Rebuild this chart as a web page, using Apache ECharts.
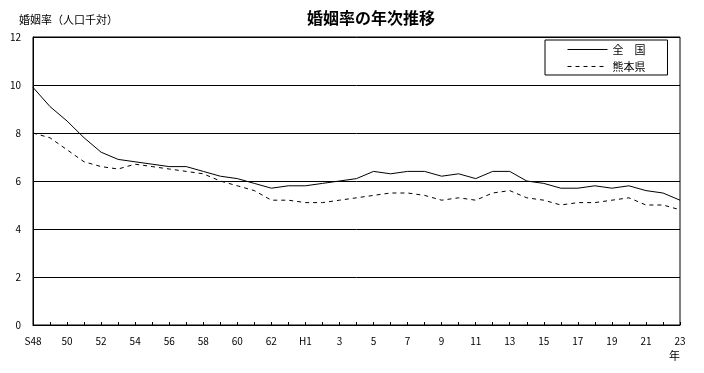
<!DOCTYPE html>
<html>
<head>
<meta charset="utf-8">
<script src="https://cdn.jsdelivr.net/npm/echarts@6/dist/echarts.min.js"></script>
<style>html,body{margin:0;padding:0;background:#fff}#c{width:704px;height:373px}</style>
</head>
<body>
<div id="c"></div>
<script>
const years = ['S48','49','50','51','52','53','54','55','56','57','58','59','60','61','62','63',
  'H1','2','3','4','5','6','7','8','9','10','11','12','13','14','15','16','17','18','19','20','21','22','23'];
const zenkoku = [9.9,9.1,8.5,7.8,7.2,6.9,6.8,6.7,6.6,6.6,6.4,6.2,6.1,5.9,5.7,5.8,
  5.8,5.9,6.0,6.1,6.4,6.3,6.4,6.4,6.2,6.3,6.1,6.4,6.4,6.0,5.9,5.7,5.7,5.8,5.7,5.8,5.6,5.5,5.2];
const kumamoto = [8.0,7.8,7.3,6.8,6.6,6.5,6.7,6.6,6.5,6.4,6.3,6.0,5.8,5.6,5.2,5.2,
  5.1,5.1,5.2,5.3,5.4,5.5,5.5,5.4,5.2,5.3,5.2,5.5,5.6,5.3,5.2,5.0,5.1,5.1,5.2,5.3,5.0,5.0,4.8];
const yTicks = {min: 0, max: 12, interval: 2};
const font = '"Noto Sans CJK JP", sans-serif';

const chart = echarts.init(document.getElementById('c'), null, {renderer: 'canvas'});
chart.setOption({
  animation: false,
  backgroundColor: '#fff',
  title: [
    {text: '婚姻率の年次推移', left: 366, top: 5, textAlign: 'center',
     textStyle: {fontFamily: font, fontSize: 16, fontWeight: 'bold', color: '#000'}},
    {text: '婚姻率（人口千対）', left: 14, top: 9,
     textStyle: {fontFamily: font, fontSize: 11, fontWeight: 'normal', color: '#000'}}
  ],
  legend: {
    orient: 'vertical', left: 545, top: 40,
    padding: [4, 22, 3, 22], itemGap: 6, itemWidth: 40, itemHeight: 12,
    borderColor: '#000', borderWidth: 1, backgroundColor: '#fff',
    itemStyle: {opacity: 0},
    lineStyle: {width: 1},
    textStyle: {fontFamily: font, fontSize: 11, color: '#000'},
    data: ['全　国', '熊本県']
  },
  grid: {left: 33, right: 24, top: 37, bottom: 48, show: true, borderColor: '#000', borderWidth: 1},
  xAxis: {
    type: 'category', data: years, boundaryGap: false,
    axisLine: {lineStyle: {color: '#000', width: 1}},
    axisTick: {show: true, inside: true, length: 3, interval: 0, lineStyle: {color: '#000'}},
    axisLabel: {interval: 1, color: '#000', fontFamily: font, fontSize: 10, margin: 11}
  },
  yAxis: {
    type: 'value', min: yTicks.min, max: yTicks.max, interval: yTicks.interval,
    axisLine: {show: true, lineStyle: {color: '#000', width: 1}},
    axisTick: {show: false},
    splitLine: {show: true, lineStyle: {color: '#000', width: 1}},
    axisLabel: {color: '#000', fontFamily: font, fontSize: 10, margin: 12}
  },
  graphic: [
    {type: 'text', left: 669, top: 350, style: {text: '年', font: '11px ' + font, fill: '#000'}}
  ],
  series: [
    {name: '全　国', type: 'line', data: zenkoku, symbol: 'none',
     lineStyle: {color: '#000', width: 1, type: 'solid'}, itemStyle: {color: '#000'}},
    {name: '熊本県', type: 'line', data: kumamoto, symbol: 'none',
     lineStyle: {color: '#000', width: 1, type: [4, 4]}, itemStyle: {color: '#000'}}
  ]
});
</script>
</body>
</html>
